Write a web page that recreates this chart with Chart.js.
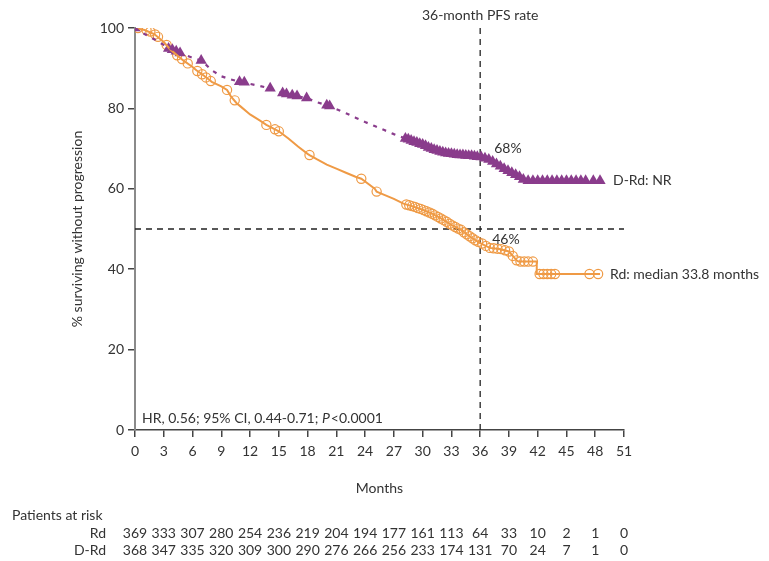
<!DOCTYPE html>
<html>
<head>
<meta charset="utf-8">
<script src="https://cdn.jsdelivr.net/npm/chart.js@4"></script>
<style>
  body { margin: 0; background: #fff; }
  #wrap { width: 769px; height: 561px; }
</style>
</head>
<body>
<div id="wrap"><canvas id="km" width="769" height="561"></canvas></div>
<script>
// x axis ticks / at-risk columns
const monthTicks = [0, 3, 6, 9, 12, 15, 18, 21, 24, 27, 30, 33, 36, 39, 42, 45, 48, 51]
const riskRd  = [369, 333, 307, 280, 254, 236, 219, 204, 194, 177, 161, 113, 64, 33, 10, 2, 1, 0]
const riskDRd = [368, 347, 335, 320, 309, 300, 290, 276, 266, 256, 233, 174, 131, 70, 24, 7, 1, 0]

// Rd curve [month, % PFS]
const rdCurve = [
  [0, 100], [1, 99.5], [2, 98.5], [3, 96.5], [3.7, 94.6], [4, 94], [5, 92], [6, 90.3], [6.4, 89.5],
  [7, 88.5], [7.8, 87], [8, 86.6], [9, 85.5], [9.6, 84.6], [10, 83], [10.6, 81.3], [11, 80.5],
  [12, 78.5], [13, 77], [13.7, 75.9], [14, 75.5], [15, 74.3], [16, 72.5], [17, 70.5], [18, 68.7],
  [18.2, 68.4], [19, 67.3], [20, 66], [21, 65], [22, 64], [23, 63], [23.6, 62.5], [24, 61.8],
  [25, 60], [25.2, 59.3], [26, 58.5], [27, 57.5], [28, 56.3], [29, 55.6], [30, 54.8], [31, 53.8],
  [32, 52.5], [33, 51], [34, 49.8], [35, 48], [36, 46.5], [37, 45.3], [38, 45], [39, 44.4],
  [39.8, 42.2], [40, 41.9], [41, 41.9], [41.9, 41.9], [41.9, 38.8], [48.5, 38.8]
]
// Rd censored patients
const rdCensored = [
  [0.3, 100], [1.2, 99.5], [1.6, 99.1], [2.1, 98.4], [2.4, 97.8], [3.3, 95.8], [4.4, 93.2], [4.9, 92.3],
  [5.5, 91.2], [6.5, 89.3], [7, 88.5], [7.4, 87.7], [7.9, 86.8], [9.6, 84.6], [10.4, 82], [13.7, 75.9],
  [14.6, 74.8], [15, 74.3], [18.2, 68.4], [23.6, 62.5], [25.2, 59.3],
  [28.3, 56.1], [28.6, 55.9], [28.9, 55.7], [29.2, 55.5], [29.5, 55.2], [29.8, 55], [30.1, 54.7],
  [30.4, 54.4], [30.7, 54.1], [31, 53.8], [31.3, 53.4], [31.6, 53], [31.9, 52.6], [32.2, 52.2],
  [32.5, 51.8], [32.8, 51.3], [33.1, 50.9], [33.4, 50.5], [33.7, 50.1], [34, 49.8], [34.3, 49.2],
  [34.6, 48.7], [34.9, 48.2], [35.2, 47.7], [35.5, 47.2], [35.8, 46.8], [36.2, 46.4], [36.6, 45.8],
  [37, 45.3], [37.4, 45.2], [37.8, 45.1], [38.2, 45], [38.6, 44.7], [39, 44.4], [39.4, 43.3],
  [39.8, 42.2], [40.2, 41.9], [40.6, 41.9], [41, 41.9], [41.5, 41.9], [42.2, 38.8], [42.6, 38.8],
  [43, 38.8], [43.4, 38.8], [43.8, 38.8], [47.4, 38.8], [48.3, 38.8]
]

// D-Rd curve [month, % PFS]
const drdCurve = [
  [0, 100], [1, 98.5], [2, 97.2], [3, 95.8], [4, 94.5], [5, 93.5], [6, 92.6], [7, 91.8], [8, 89.5],
  [9, 88], [10, 87.2], [11, 86.6], [12, 86.1], [13, 85.6], [14, 85], [15, 84], [16, 83.5], [17, 83],
  [18, 82.5], [19, 81.5], [20, 80.8], [21, 79.8], [22, 78.8], [23, 77.7], [24, 76.6], [25, 75.6],
  [26, 74.6], [27, 73.6], [28, 72.7], [29, 71.8], [30, 71], [31, 70], [32, 69.2], [33, 68.7],
  [34, 68.4], [35, 68.2], [36, 68], [37, 67.2], [38, 65.8], [39, 64.5], [40, 63.2], [40.5, 62.3], [48.5, 62]
]
// D-Rd censored patients
const drdCensored = [
  [0, 100], [3.5, 94.9], [3.9, 94.6], [4.3, 94.2], [4.7, 93.8], [6.9, 91.9], [10.9, 86.6], [11.4, 86.5],
  [14.1, 85], [15.4, 83.8], [15.8, 83.6], [16.4, 83.3], [16.9, 83.1], [17.9, 82.6], [20, 80.8], [20.3, 80.6],
  [28.2, 72.5], [28.5, 72.3], [28.8, 72], [29.1, 71.7], [29.4, 71.5], [29.7, 71.2], [30, 71], [30.3, 70.7],
  [30.6, 70.3], [30.9, 70], [31.2, 69.7], [31.5, 69.5], [31.8, 69.3], [32.1, 69.1], [32.4, 68.9],
  [32.7, 68.8], [33, 68.7], [33.3, 68.6], [33.6, 68.5], [33.9, 68.4], [34.2, 68.4], [34.5, 68.3],
  [34.8, 68.2], [35.1, 68.2], [35.4, 68.1], [35.7, 68], [36.1, 67.9], [36.5, 67.6], [36.9, 67.3],
  [37.3, 66.8], [37.7, 66.2], [38.1, 65.6], [38.5, 65], [38.9, 64.5], [39.3, 64], [39.7, 63.5],
  [40.1, 63], [40.5, 62.3], [41, 62], [41.5, 62], [42, 62], [42.5, 62], [43, 62], [43.5, 62], [44, 62],
  [44.5, 62], [45, 62], [45.5, 62], [46, 62], [46.5, 62], [47, 62], [47.8, 62], [48.5, 62]
]

const pfsMonth = 36
const medianLine = 50

const colores = {
    rd: '#ef9a45',
    drd: '#8a3c8c',
    texto: '#333333'
}
const fuente = 'Lato, "Open Sans", sans-serif'

const toXY = arr => arr.map(p => ({ x: p[0], y: p[1] }))

// anotaciones, lineas de referencia y tabla de pacientes en riesgo
const overlay = {
    id: 'overlay',
    beforeDatasetsDraw(chart) {
        const { ctx, scales: { x, y } } = chart
        ctx.save()
        ctx.strokeStyle = '#222'
        ctx.lineWidth = 1.3
        ctx.setLineDash([6, 5])
        ctx.beginPath()
        ctx.moveTo(x.getPixelForValue(pfsMonth), y.getPixelForValue(100))
        ctx.lineTo(x.getPixelForValue(pfsMonth), y.getPixelForValue(0))
        ctx.moveTo(x.getPixelForValue(0), y.getPixelForValue(medianLine))
        ctx.lineTo(x.getPixelForValue(51), y.getPixelForValue(medianLine))
        ctx.stroke()
        ctx.restore()
    },
    afterDraw(chart) {
        const { ctx, scales: { x, y } } = chart
        const x36 = x.getPixelForValue(pfsMonth)
        ctx.save()
        ctx.fillStyle = colores.texto
        ctx.font = '14px ' + fuente
        ctx.textBaseline = 'middle'

        ctx.textAlign = 'center'
        ctx.fillText('36-month PFS rate', x36, 15)
        ctx.fillText('Months', x.getPixelForValue(25.5), 488)

        ctx.textAlign = 'left'
        ctx.fillText('68%', x36 + 14, 148)
        ctx.fillText('46%', x36 + 12, 239)
        ctx.fillText('D-Rd: NR', 613, y.getPixelForValue(62))
        ctx.fillText('Rd: median 33.8 months', 610, y.getPixelForValue(38.8))

        // HR con P en cursiva
        let hx = 142
        const hy = 418
        const parte1 = 'HR, 0.56; 95% CI, 0.44-0.71; '
        ctx.fillText(parte1, hx, hy)
        hx += ctx.measureText(parte1).width
        ctx.font = 'italic 14px ' + fuente
        ctx.fillText('P', hx, hy)
        hx += ctx.measureText('P').width + 1
        ctx.font = '14px ' + fuente
        ctx.fillText('<0.0001', hx, hy)

        // titulo eje y
        ctx.save()
        ctx.translate(77, (y.top + y.bottom) / 2)
        ctx.rotate(-Math.PI / 2)
        ctx.textAlign = 'center'
        ctx.fillText('% surviving without progression', 0, 0)
        ctx.restore()

        // pacientes en riesgo
        ctx.textAlign = 'left'
        ctx.fillText('Patients at risk', 12, 515)
        ctx.textAlign = 'right'
        ctx.fillText('Rd', 106, 533)
        ctx.fillText('D-Rd', 106, 550)
        ctx.textAlign = 'center'
        monthTicks.forEach((m, i) => {
            const px = x.getPixelForValue(m)
            ctx.fillText(String(riskRd[i]), px, 533)
            ctx.fillText(String(riskDRd[i]), px, 550)
        })
        ctx.restore()
    }
}

const miCanvas = document.getElementById('km')

const miChart = new Chart(miCanvas, {
    type: 'line',
    data: {
        datasets: [
            {
                data: toXY(drdCurve),
                borderColor: colores.drd,
                borderWidth: 2.2,
                borderDash: [4, 6],
                pointRadius: 0,
                tension: 0
            },
            {
                data: toXY(rdCurve),
                borderColor: colores.rd,
                borderWidth: 2,
                pointRadius: 0,
                tension: 0
            },
            {
                data: toXY(drdCensored),
                showLine: false,
                pointStyle: 'triangle',
                pointRadius: 6.5,
                pointBackgroundColor: colores.drd,
                pointBorderColor: colores.drd,
                pointBorderWidth: 0
            },
            {
                data: toXY(rdCensored),
                showLine: false,
                pointStyle: 'circle',
                pointRadius: 4.6,
                pointBackgroundColor: 'rgba(255,255,255,0)',
                pointBorderColor: colores.rd,
                pointBorderWidth: 1.2
            }
        ]
    },
    options: {
        responsive: false,
        animation: false,
        devicePixelRatio: 1,
        layout: { padding: { top: 28, right: 145, bottom: 0, left: 0 } },
        plugins: {
            legend: { display: false },
            tooltip: { enabled: false }
        },
        scales: {
            x: {
                type: 'linear',
                min: 0,
                max: 51,
                afterFit: s => { s.height = 131 },
                afterBuildTicks: s => { s.ticks = monthTicks.map(v => ({ value: v })) },
                border: { color: '#444', width: 1.5 },
                grid: { drawOnChartArea: false, drawTicks: true, tickLength: 7, color: '#444', lineWidth: 1.5 },
                ticks: { color: colores.texto, font: { family: fuente, size: 14 }, padding: 6, maxRotation: 0 }
            },
            y: {
                min: 0,
                max: 100,
                afterFit: s => { s.width = 135 },
                border: { color: '#8a8a8a', width: 2 },
                grid: { drawOnChartArea: false, drawTicks: true, tickLength: 7, color: '#444', lineWidth: 1.5 },
                ticks: { stepSize: 20, color: colores.texto, font: { family: fuente, size: 14 }, padding: 4 }
            }
        }
    },
    plugins: [overlay]
})
</script>
</body>
</html>
